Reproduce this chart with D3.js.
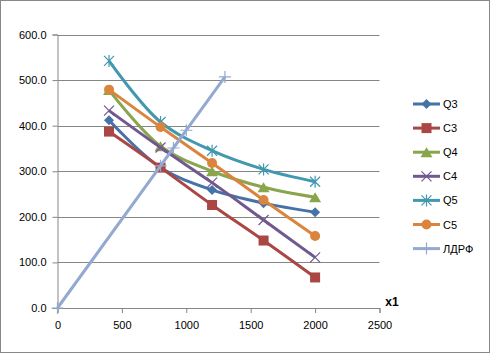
<!DOCTYPE html>
<html><head><meta charset="utf-8">
<script src="https://cdn.jsdelivr.net/npm/d3@7"></script>
<style>body{margin:0;background:#fff}svg{display:block}</style>
</head><body><svg id="c" width="490" height="353"></svg>
<script>
const xValues = [400, 800, 1200, 1600, 2000];
const q3 = [412, 308, 259, 230, 210];
const c3 = [387, 308, 226, 148, 67];
const q4 = [478, 355, 300, 265, 243];
const c4 = [433, 352, 275, 193, 111];
const q5 = [542, 408, 345, 304, 277];
const c5 = [479, 397, 318, 237, 158];
const ldrfX = [0, 800, 900, 1000, 1300];
const ldrfY = [0, 312, 351, 390, 507];
const yTicks = [0, 100, 200, 300, 400, 500, 600];
const xTicks = [0, 500, 1000, 1500, 2000, 2500];
const seriesNames = ["Q3", "C3", "Q4", "C4", "Q5", "C5", "ЛДРФ"];
const colors = ["#4572A7", "#AA4643", "#89A54E", "#71588F", "#4198AF", "#DB843D", "#93A9CF"];
const markers = ["diamond", "square", "triangle", "x", "star", "circle", "plus"];

const series = [
  {name: seriesNames[0], xs: xValues, ys: q3},
  {name: seriesNames[1], xs: xValues, ys: c3},
  {name: seriesNames[2], xs: xValues, ys: q4},
  {name: seriesNames[3], xs: xValues, ys: c4},
  {name: seriesNames[4], xs: xValues, ys: q5},
  {name: seriesNames[5], xs: xValues, ys: c5},
  {name: seriesNames[6], xs: ldrfX, ys: ldrfY}
];

const svg = d3.select("#c");
const font = "'Liberation Sans', Arial, sans-serif";
svg.append("rect").attr("x", 0.5).attr("y", 0.5).attr("width", 489).attr("height", 352)
  .attr("fill", "#fff").attr("stroke", "#888").attr("stroke-width", 1);

const x = d3.scaleLinear().domain([0, 2500]).range([57.5, 379.5]);
const y = d3.scaleLinear().domain([0, 600]).range([308, 34.5]);

// gridlines
svg.append("g").selectAll("line").data(yTicks.filter(d => d > 0)).join("line")
  .attr("x1", x(0)).attr("x2", x(2500))
  .attr("y1", d => Math.round(y(d)) + 0.5).attr("y2", d => Math.round(y(d)) + 0.5)
  .attr("stroke", "#868686").attr("stroke-width", 1);

// y axis
const ya = svg.append("g").attr("transform", `translate(${x(0)},0)`)
  .call(d3.axisLeft(y).tickValues(yTicks).tickSize(5).tickPadding(6).tickFormat(d3.format(".1f")));
ya.select(".domain").attr("stroke", "#868686");
ya.selectAll(".tick line").attr("stroke", "#868686");
ya.selectAll("text").attr("font-family", font).attr("font-size", 11).attr("fill", "#000");

// x axis
const xa = svg.append("g").attr("transform", `translate(0,${y(0)})`)
  .call(d3.axisBottom(x).tickValues(xTicks).tickSize(5).tickPadding(8).tickFormat(d3.format("d")));
xa.select(".domain").attr("stroke", "#868686");
xa.selectAll(".tick line").attr("stroke", "#868686");
xa.selectAll("text").attr("font-family", font).attr("font-size", 11).attr("fill", "#000");

svg.append("text").attr("x", 392).attr("y", 306).attr("text-anchor", "middle")
  .attr("font-family", font).attr("font-size", 12).attr("font-weight", "bold").text("x1");

function drawMarker(g, type, cx, cy, color) {
  if (type === "diamond") {
    g.append("path").attr("d", `M${cx},${cy-5}L${cx+5},${cy}L${cx},${cy+5}L${cx-5},${cy}Z`).attr("fill", color);
  } else if (type === "square") {
    g.append("rect").attr("x", cx-5).attr("y", cy-5).attr("width", 10).attr("height", 10).attr("fill", color);
  } else if (type === "triangle") {
    g.append("path").attr("d", `M${cx},${cy-5}L${cx+6},${cy+5}L${cx-6},${cy+5}Z`).attr("fill", color);
  } else if (type === "circle") {
    g.append("circle").attr("cx", cx).attr("cy", cy).attr("r", 5).attr("fill", color);
  } else if (type === "x") {
    g.append("path").attr("d", `M${cx-5},${cy-5}L${cx+5},${cy+5}M${cx-5},${cy+5}L${cx+5},${cy-5}`)
      .attr("stroke", color).attr("stroke-width", 1.2);
  } else if (type === "star") {
    g.append("path").attr("d", `M${cx-5},${cy-5}L${cx+5},${cy+5}M${cx-5},${cy+5}L${cx+5},${cy-5}M${cx},${cy-6}L${cx},${cy+6}`)
      .attr("stroke", color).attr("stroke-width", 1.2);
  } else if (type === "plus") {
    g.append("path").attr("d", `M${cx-6},${cy}L${cx+6},${cy}M${cx},${cy-6}L${cx},${cy+6}`)
      .attr("stroke", color).attr("stroke-width", 1.2);
  }
}

const line = d3.line().x(d => x(d[0])).y(d => y(d[1])).curve(d3.curveCatmullRom.alpha(0.5));
const lineStraight = d3.line().x(d => x(d[0])).y(d => y(d[1]));

series.forEach((s, i) => {
  const pts = s.xs.map((v, j) => [v, s.ys[j]]);
  const g = svg.append("g");
  g.append("path").attr("d", (i === 6 ? lineStraight : line)(pts)).attr("fill", "none")
    .attr("stroke", colors[i]).attr("stroke-width", 3).attr("stroke-linejoin", "round");
  pts.forEach(p => drawMarker(g, markers[i], x(p[0]), y(p[1]), colors[i]));
});

// legend
const lg = svg.append("g");
seriesNames.forEach((n, i) => {
  const ly = 104 + i * 24.1;
  lg.append("line").attr("x1", 413).attr("x2", 440).attr("y1", ly).attr("y2", ly)
    .attr("stroke", colors[i]).attr("stroke-width", 3);
  drawMarker(lg, markers[i], 426.5, ly, colors[i]);
  lg.append("text").attr("x", 443).attr("y", ly + 4).attr("font-family", font).attr("font-size", 11).text(n);
});
</script></body></html>
